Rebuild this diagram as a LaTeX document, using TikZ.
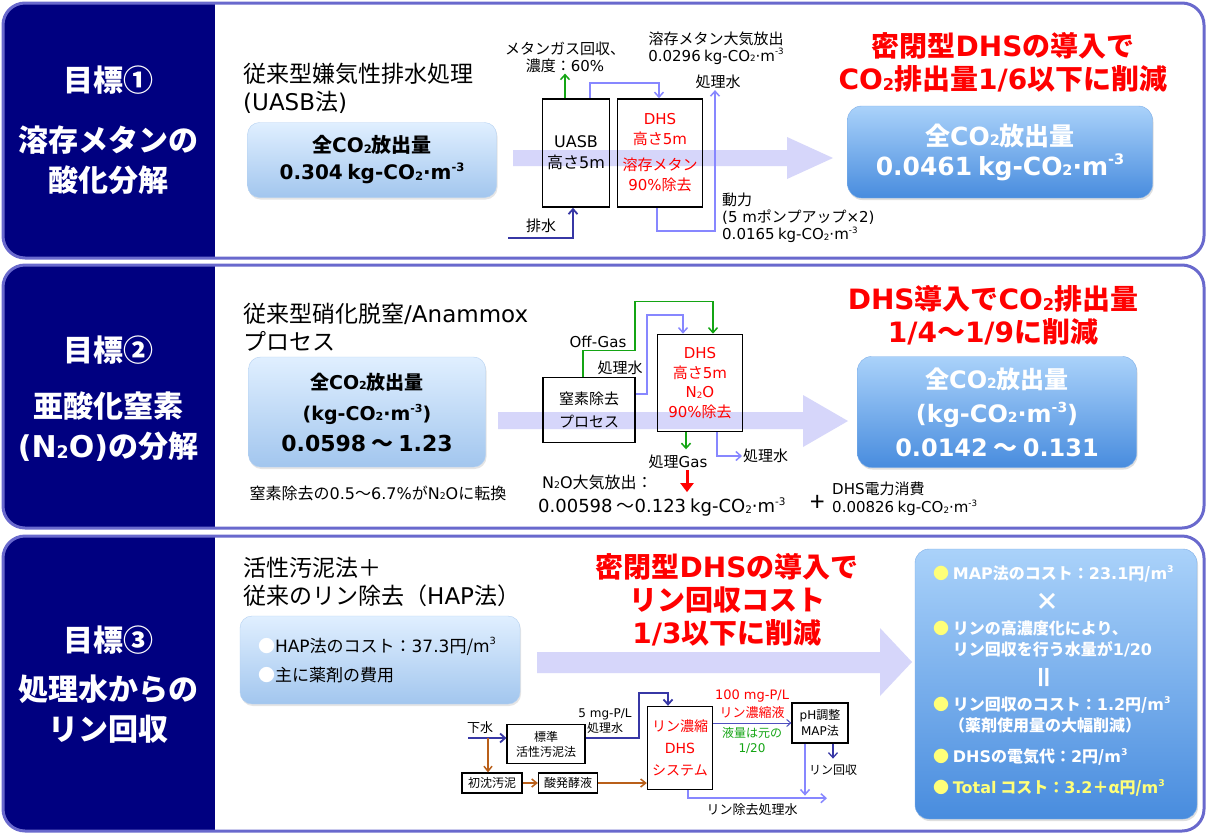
\documentclass[tikz,border=0pt]{standalone}
\usepackage{graphicx}
\usepackage{fontspec}
\setmainfont{Noto Sans CJK JP}
\newfontfamily\latn{DejaVu Sans}
\usetikzlibrary{arrows.meta, positioning, calc, shadows}
\definecolor{goalnavy}{RGB}{0,0,128}
\definecolor{panelline}{RGB}{105,105,205}
\definecolor{flowlav}{RGB}{214,214,250}
\definecolor{lighttop}{RGB}{224,239,255}
\definecolor{lightbot}{RGB}{162,198,238}
\definecolor{darktop}{RGB}{170,210,250}
\definecolor{darkbot}{RGB}{72,140,222}
\definecolor{pipeblue}{RGB}{135,135,255}
\definecolor{deepblue}{RGB}{55,55,165}
\definecolor{sludge}{RGB}{185,95,25}
\definecolor{gasgreen}{RGB}{20,165,20}
\definecolor{notered}{RGB}{255,0,0}
\definecolor{bullety}{RGB}{255,255,120}
\newcommand{\fsz}[2]{\fontsize{#1}{#2}\selectfont}
\newcommand{\lat}[1]{{\latn #1}}
\newcommand{\subs}[1]{\raisebox{-0.03em}{\scalebox{0.58}{#1}}}
\newcommand{\sups}[1]{\raisebox{0.42em}{\scalebox{0.58}{#1}}}
\newcommand{\COtwo}{\lat{CO\subs{2}}}
\newcommand{\kgunit}{\lat{kg-CO\subs{2}·m\sups{-3}}}

\begin{document}
\begin{tikzpicture}[x=1pt, y=-1pt,
    panel/.style={draw=panelline, line width=3pt, rounded corners=22pt},
    goaltxt/.style={text=white, font=\fsz{30}{40}\bfseries, align=center},
    oldtxt/.style={anchor=west, inner sep=0pt, align=left, font=\fsz{23}{28}},
    lightbox/.style={rounded corners=12pt, top color=lighttop, bottom color=lightbot,
                     draw=lightbot!80!white, drop shadow={opacity=0.2, shadow xshift=1pt, shadow yshift=-2pt},
                     align=center, font=\fsz{20}{27}\bfseries},
    darkbox/.style={rounded corners=14pt, top color=darktop, bottom color=darkbot,
                    draw=darkbot!70!white, drop shadow={opacity=0.25, shadow xshift=1pt, shadow yshift=-2pt},
                    text=white, align=center, font=\fsz{25}{30}\bfseries},
    headtxt/.style={text=notered, align=center, font=\fsz{28}{33}\bfseries},
    unit/.style={draw, line width=1.6pt, align=center, inner sep=0pt},
    small/.style={align=center, inner sep=1pt, font=\fsz{15}{17}},
    tiny/.style={align=center, inner sep=1pt, font=\fsz{12}{15}},
    listtxt/.style={anchor=west, text=white, align=left, inner sep=0pt, font=\fsz{16}{21}\bfseries},
    flow/.style={fill=flowlav},
    pipe/.style={draw=pipeblue, line width=1.5pt, -{Straight Barb[length=5pt, width=9pt]}},
    inflow/.style={draw=deepblue, line width=1.8pt, -{Straight Barb[length=5pt, width=9pt]}},
    gas/.style={draw=gasgreen, line width=1.5pt, -{Straight Barb[length=5pt, width=9pt]}},
    sludgearr/.style={draw=sludge, line width=1.5pt, -{Straight Barb[length=5pt, width=8pt]}},
    redarr/.style={draw=notered, line width=3pt, -{Triangle[length=9pt, width=13pt]}},
  ]
  \useasboundingbox (0,0) rectangle (1207,836);
  \foreach \ptop/\pbot in {3/258, 265/528, 536/831} {
    \begin{scope}
      \clip[rounded corners=22pt] (3,\ptop) rectangle (1204,\pbot);
      \fill[white] (3,\ptop) rectangle (1204,\pbot);
      \fill[goalnavy] (3,\ptop) rectangle (215,\pbot);
    \end{scope}
    \draw[panel] (3,\ptop) rectangle (1204,\pbot);
  }

  % goal 1
  \node[goaltxt] (g1) at (108,80) {目標①};
  \node[goaltxt] (g1t) at (108,160) {溶存メタンの\\酸化分解};
  \node[oldtxt] (old1) at (243,88) {従来型嫌気性排水処理\\\lat{(UASB}法\lat{)}};
  \node[lightbox, minimum width=249pt, minimum height=75pt] (tot1) at (372,160)
    {全\COtwo 放出量\\\lat{0.304} \kgunit};
  \fill[flow] (513,150) -- (787,150) -- (787,137) -- (833,158) -- (787,179) -- (787,166) -- (513,166) -- cycle;
  \node[unit, minimum width=67pt, minimum height=108pt, font=\fsz{16}{21}] (uasb) at (576,153) {\lat{UASB}\\高さ\lat{5m}};
  \node[unit, minimum width=85pt, minimum height=108pt, text=notered, font=\fsz{15}{20}] (dhs1) at (660,153)
    {\lat{DHS}\\高さ\lat{5m}\\[6pt]溶存メタン\\\lat{90\%}除去};
  \node[small] (methrec) at (565,57) {メタンガス回収、\\濃度：\lat{60\%}};
  \node[small] (dmeth) at (716,48) {溶存メタン大気放出\\\lat{0.0296} \kgunit};
  \node[small] (tw1) at (718,82) {処理水};
  \node[small, anchor=north west, align=left] (power1) at (721,192)
    {動力\\\lat{(5 m}ポンプアップ\lat{×2)}\\\lat{0.0165} \kgunit};
  \node[small] (in1) at (541,226) {排水};
  \coordinate (in1start) at (508,238);
  \draw[gas] (uasb.north -| methrec) -- (methrec.south);
  \draw[pipe] ([xshift=14pt]uasb.north) -- ++(0,-15) -| ([xshift=-1pt]dhs1.north);
  \draw[pipe] ([xshift=-3pt]dhs1.south) -- ++(0,23) -| ([xshift=-3pt]tw1.south);
  \draw[inflow] (in1start) -| ([xshift=-3pt]uasb.south);
  \node[headtxt] (head1) at (1003,62) {密閉型\lat{DHS}の導入で\\\COtwo 排出量\lat{1/6}以下に削減};
  \node[darkbox, minimum width=305pt, minimum height=92pt] (res1) at (1000,152)
    {全\COtwo 放出量\\\lat{0.0461} \kgunit};

  % goal 2
  \node[goaltxt] (g2) at (108,350) {目標②};
  \node[goaltxt] (g2t) at (108,427) {亜酸化窒素\\\lat{(N\subs{2}O)}の分解};
  \node[oldtxt] (old2) at (243,327) {従来型硝化脱窒\lat{/Anammox}\\プロセス};
  \node[lightbox, minimum width=237pt, minimum height=110pt, font=\fsz{19}{31}\bfseries] (tot2) at (367,412)
    {全\COtwo 放出量\\\lat{(}\kgunit\lat{)}\\{\fsz{22}{31}\lat{0.0598} ～ \lat{1.23}}};
  \node[small, font=\fsz{16}{18}] (conv) at (378,493) {窒素除去の\lat{0.5}～\lat{6.7\%}が\lat{N\subs{2}O}に転換};
  \fill[flow] (498,412) -- (803,412) -- (803,395) -- (848,421) -- (803,447) -- (803,429) -- (498,429) -- cycle;
  \node[unit, minimum width=92pt, minimum height=65pt, font=\fsz{15}{23}] (nbox) at (589,410) {窒素除去\\プロセス};
  \node[unit, minimum width=85pt, minimum height=97pt, text=notered, font=\fsz{15}{19.5}] (dhs2) at (700,383)
    {\lat{DHS}\\高さ\lat{5m}\\\lat{N\subs{2}O}\\\lat{90\%}除去};
  \node[small] (offgas) at (598,342) {\lat{Off-Gas}};
  \node[small] (tw2in) at (620,368) {処理水};
  \node[small] (gasout) at (678,462) {処理\lat{Gas}};
  \node[small, anchor=west] (tw2) at (742,456) {処理水};
  \draw[gas] ([xshift=-6pt]nbox.north) -- ++(0,-26) -- ++(52,0) -- ++(0,-49) -| ([xshift=13pt]dhs2.north);
  \draw[pipe] ($(nbox.east)+(0,-16)$) -- ++(11,0) -- ++(0,-79) -| ($(dhs2.north)+(-17,0)$);
  \draw[gas] ([xshift=-14pt]dhs2.south) -- ++(0,17);
  \draw[pipe] ([xshift=17pt]dhs2.south) |- (tw2.west);
  \draw[redarr] ([xshift=9pt]gasout.south) -- ++(0,22);
  \node[small, anchor=west, font=\fsz{16}{18}] (n2o) at (541,482) {\lat{N\subs{2}O}大気放出：};
  \node[small, anchor=west, font=\fsz{18}{20}] (n2ov) at (537,507) {\lat{0.00598} ～\lat{0.123} \kgunit};
  \node[small, font=\fsz{26}{28}] (plus) at (818,503) {+};
  \node[small, anchor=west, font=\fsz{15}{18}, align=left] (power2) at (831,499) {\lat{DHS}電力消費\\\lat{0.00826} \kgunit};
  \node[headtxt] (head2) at (993,315) {\lat{DHS}導入で\COtwo 排出量\\\lat{1/4}～\lat{1/9}に削減};
  \node[darkbox, minimum width=279pt, minimum height=111pt, font=\fsz{24}{34}\bfseries] (res2) at (997,412)
    {全\COtwo 放出量\\\lat{(}\kgunit\lat{)}\\\lat{0.0142} ～ \lat{0.131}};

  % goal 3
  \node[goaltxt] (g3) at (108,640) {目標③};
  \node[goaltxt] (g3t) at (108,709) {処理水からの\\リン回収};
  \node[oldtxt] (old3) at (243,582) {活性汚泥法＋\\従来のリン除去（\lat{HAP}法）};
  \node[lightbox, minimum width=280pt, minimum height=88pt, text width=244pt, font=\fsz{17}{29}, align=left] (cost3) at (380,660)
    {\textcolor{white}{●}\lat{HAP}法のコスト：\lat{37.3}円/\lat{m\sups{3}}\\\textcolor{white}{●}主に薬剤の費用};
  \node[headtxt] (head3) at (727,600) {密閉型\lat{DHS}の導入で\\リン回収コスト\\\lat{1/3}以下に削減};
  \fill[flow] (537,652) -- (880,652) -- (880,628) -- (912,662) -- (880,696) -- (880,673) -- (537,673) -- cycle;
  \node[tiny, font=\fsz{13}{15}] (sewage) at (480,728) {下水};
  \coordinate (sewin) at (468,738);
  \coordinate (split) at (488,738);
  \node[unit, line width=1.2pt, minimum width=78pt, minimum height=39pt, font=\fsz{12}{15}] (std) at (546,744) {標準\\活性汚泥法};
  \node[unit, line width=1.2pt, minimum width=60pt, minimum height=20pt, font=\fsz{12}{15}] (prim) at (492,783) {初沈汚泥};
  \node[unit, line width=1.2pt, minimum width=59pt, minimum height=20pt, font=\fsz{12}{15}] (acid) at (568,783) {酸発酵液};
  \node[unit, line width=1.4pt, minimum width=65pt, minimum height=83pt, text=notered, font=\fsz{14}{22}] (pdhs) at (680,748)
    {リン濃縮\\\lat{DHS}\\システム};
  \node[unit, line width=1.2pt, minimum width=56pt, minimum height=40pt, font=\fsz{12}{16}] (ph) at (820,723) {\lat{pH}調整\\\lat{MAP}法};
  \node[tiny] (lowp) at (605,721) {\lat{5 mg-P/L}\\処理水};
  \node[tiny, text=notered, font=\fsz{13}{18}] (highp) at (752,704) {\lat{100 mg-P/L}\\リン濃縮液};
  \node[tiny, text=gasgreen] (vol) at (752,740) {液量は元の\\\lat{1/20}};
  \node[tiny] (prec) at (833,770) {リン回収};
  \node[tiny, font=\fsz{13}{15}] (pout) at (752,810) {リン除去処理水};
  \draw[inflow] (sewin) -- (sewin -| std.west);
  \draw[sludgearr] (split) -- (split |- prim.north);
  \draw[sludgearr] (prim) -- (acid);
  \draw[sludgearr] (acid.east) -- (acid.east -| pdhs.west);
  \draw[inflow] (std.east |- sewin) -- ++(53,0) -- ++(0,-45) -| ([xshift=-12pt]pdhs.north);
  \draw[draw=deepblue!70!pipeblue, line width=1pt, -{Straight Barb[length=4pt, width=7pt]}] (pdhs.east |- ph.west) -- (ph.west);
  \draw[inflow, line width=1.3pt] ([xshift=13pt]ph.south) -- ++(0,15);
  \draw[pipe] ([xshift=-15pt]ph.south) -- ++(0,52);
  \draw[pipe] ([xshift=8pt]pdhs.south) -- ++(0,8) -- ++(139,0);
  \node[darkbox, minimum width=282pt, minimum height=270pt] (res3) at (1056,684) {};
  \node[listtxt] (m1) at (933,574) {\textcolor{bullety}{●} \lat{MAP}法のコスト：\lat{23.1}円/\lat{m\sups{3}}};
  \node[text=white, font=\fsz{24}{26}\bfseries] (times) at (1047,602) {×};
  \node[listtxt] (m2) at (933,639) {\textcolor{bullety}{●} リンの高濃度化により、\\\phantom{●} リン回収を行う水量が\lat{1/20}};
  \node[text=white, font=\fsz{26}{26}\bfseries, rotate=90] (equal) at (1047,677) {＝};
  \node[listtxt] (m3) at (933,715) {\textcolor{bullety}{●} リン回収のコスト：\lat{1.2}円/\lat{m\sups{3}}\\\phantom{●}（薬剤使用量の大幅削減）};
  \node[listtxt] (m4) at (933,757) {\textcolor{bullety}{●} \lat{DHS}の電気代：\lat{2}円/\lat{m\sups{3}}};
  \node[listtxt, text=bullety] (m5) at (933,788) {● \lat{Total} コスト：\lat{3.2}＋α円/\lat{m\sups{3}}};
\end{tikzpicture}
\end{document}
